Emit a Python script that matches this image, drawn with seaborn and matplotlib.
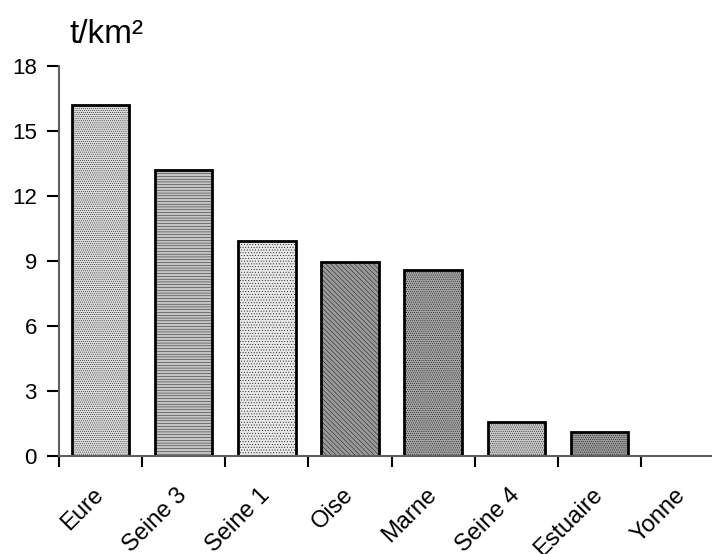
import numpy as np
import pandas as pd
import matplotlib
matplotlib.use("Agg")
import matplotlib.pyplot as plt
import matplotlib.transforms as mtransforms
import seaborn as sns
from matplotlib.ticker import FixedLocator

# bassins et flux specifiques (t/km2)
bassins = ["Eure", "Seine 3", "Seine 1", "Oise", "Marne", "Seine 4", "Estuaire", "Yonne"]
flux = [16.2, 13.2, 9.9, 8.95, 8.6, 1.55, 1.1, 0.0]
# niveaux de gris / motifs approximant les trames du graphique d'origine
gris = ["#dcdcdc", "#c4c4c4", "#e8e8e8", "#9a9a9a", "#a4a4a4", "#cacaca", "#9c9c9c", "#ffffff"]
motifs = ["........", "------", "......", "\\\\\\\\\\\\\\", "........", "........", "........", ""]
yticks = [0, 3, 6, 9, 12, 15, 18]

sns.set_style("white")
plt.rcParams["font.family"] = ["Liberation Sans", "DejaVu Sans"]
plt.rcParams["hatch.linewidth"] = 0.3
plt.rcParams["text.color"] = "black"

df = pd.DataFrame({"bassin": bassins, "flux": flux})

fig = plt.figure(figsize=(7.12, 5.54), dpi=100)
ax = fig.add_axes([0.0829, 0.1769, 1.017 - 0.0829, 0.881 - 0.1769])

sns.barplot(data=df, x="bassin", y="flux", hue="bassin", palette=gris, legend=False,
            width=0.69, edgecolor="black", linewidth=2, ax=ax)
for patch, m in zip(ax.patches, motifs):
    patch.set_hatch(m)

ax.set_xlim(-0.5, len(bassins) - 0.5)
ax.set_ylim(0, 18)
ax.set_yticks(yticks)
ax.set_xlabel("")
ax.set_ylabel("")

# graduations aux limites entre categories
ax.set_xticks(range(len(bassins)))
ax.set_xticklabels(bassins, rotation=45, ha="right", rotation_mode="anchor")
ax.xaxis.set_minor_locator(FixedLocator(np.arange(-0.5, len(bassins) - 1, 1.0)))
ax.tick_params(axis="x", which="major", bottom=True, length=0, labelsize=17, pad=20,
               labelcolor="black")
ax.tick_params(axis="x", which="minor", bottom=True, length=8, width=1.5, color="black", direction="out")
ax.tick_params(axis="y", left=True, length=9, width=1.5, color="black", direction="out",
               labelsize=16, pad=7, labelcolor="black")
decal = mtransforms.ScaledTranslation(-8 / 100, 0, fig.dpi_scale_trans)
for lab in ax.get_xticklabels():
    lab.set_transform(lab.get_transform() + decal)

for s in ["top", "right"]:
    ax.spines[s].set_visible(False)
for s in ["left", "bottom"]:
    ax.spines[s].set_color("#606060")
    ax.spines[s].set_linewidth(1.5)

fig.text(0.098, 1 - 43 / 554, "t/km²", fontsize=24, ha="left", va="baseline", color="black")

fig.savefig("out.png", dpi=100)
